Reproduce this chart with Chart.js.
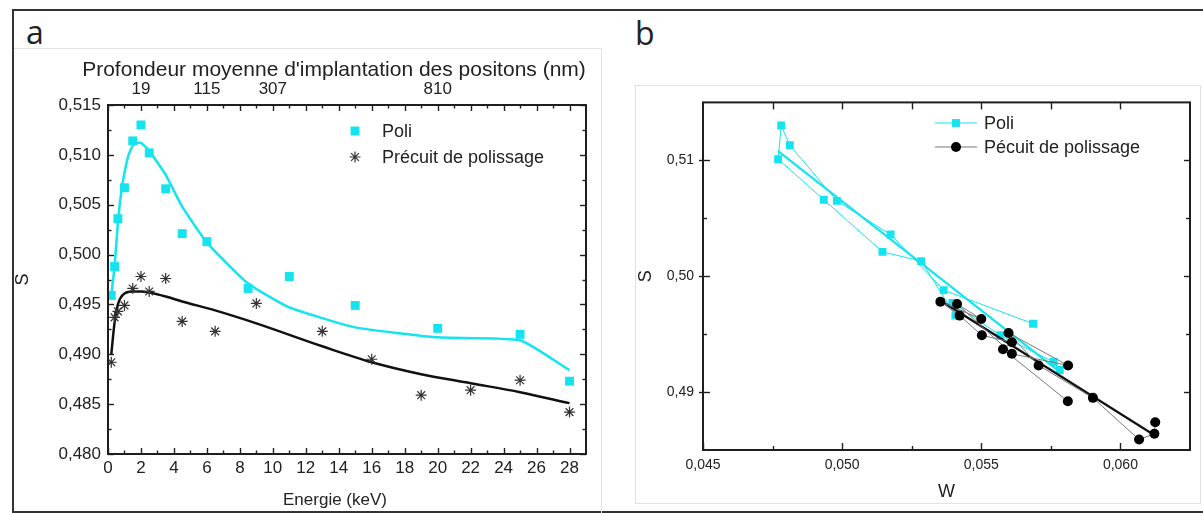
<!DOCTYPE html>
<html>
<head>
<meta charset="utf-8">
<script src="https://cdn.jsdelivr.net/npm/chart.js@4.4.0/dist/chart.umd.min.js"></script>
<style>
  body { margin:0; background:#fff; width:1203px; height:513px; position:relative; overflow:hidden; }
  #frame { position:absolute; left:12px; top:9px; width:1200px; height:500px; border:2px solid #333; border-right:none; }
  #boxA { position:absolute; left:14px; top:48px; width:587px; height:470px; border-top:1px solid #e2e2e2; border-right:1px solid #e2e2e2; }
  #boxB { position:absolute; left:635px; top:85px; width:564px; height:417px; border:1px solid #e2e2e2; }
  .lab { position:absolute; font-family:"Open Sans", sans-serif; font-size:32px; line-height:32px; color:#222; }
  canvas { position:absolute; }
  #chartA { left:0; top:48px; }
  #chartB { left:635px; top:85px; }
</style>
</head>
<body>
<div id="frame"></div>
<div id="boxA"></div>
<div id="boxB"></div>
<div class="lab" style="left:26px; top:16px;">a</div>
<div class="lab" style="left:635px; top:17px;">b</div>
<canvas id="chartA" width="603" height="463"></canvas>
<canvas id="chartB" width="565" height="420"></canvas>
<script>
// panel a : S(E)
const energyPoli = [0.2, 0.4, 0.6, 1, 1.5, 2, 2.5, 3.5, 4.5, 6, 8.5, 11, 15, 20, 25, 28];
const sPoli = [0.4959, 0.4988, 0.5036, 0.5067, 0.5114, 0.5130, 0.5102, 0.5066, 0.5021, 0.5013, 0.4966, 0.4978, 0.4949, 0.4926, 0.4920, 0.4873];
// fitted curve
const energyPoliFit = [0.2, 0.4, 0.6, 0.8, 1, 1.25, 1.5, 1.75, 2, 2.5, 3.5, 4.5, 6, 8.5, 11, 15, 20, 25, 28];
const sPoliFit = [0.4960, 0.4988, 0.5032, 0.5062, 0.5082, 0.5100, 0.5109, 0.5112, 0.5112, 0.5104, 0.5080, 0.5048, 0.5012, 0.4971, 0.4947, 0.4927, 0.4917, 0.4914, 0.4884];

const energyPrecuit = [0.2, 0.4, 0.6, 1, 1.5, 2, 2.5, 3.5, 4.5, 6.5, 9, 13, 16, 19, 22, 25, 28];
const sPrecuit = [0.4892, 0.4937, 0.4943, 0.4949, 0.4966, 0.4978, 0.4963, 0.4976, 0.4933, 0.4923, 0.4951, 0.4923, 0.4895, 0.4859, 0.4864, 0.4874, 0.4842];
const sPrecuitFit = [0.4900, 0.4932, 0.4950, 0.4961, 0.4963, 0.4963, 0.4962, 0.4958, 0.4953, 0.4944, 0.4931, 0.4908, 0.4892, 0.4880, 0.4871, 0.4862, 0.4851];

const energyTicks = [0, 2, 4, 6, 8, 10, 12, 14, 16, 18, 20, 22, 24, 26, 28];
const depthTickEnergy = [2, 6, 10, 20];
const depthTickLabels = ['19', '115', '307', '810'];
const sTicksA = [0.480, 0.485, 0.490, 0.495, 0.500, 0.505, 0.510, 0.515];

// panel b : S(W)
const wPoli = [0.05686, 0.05365, 0.05174, 0.04981, 0.04812, 0.04781, 0.04770, 0.04934, 0.05145, 0.05284, 0.05407, 0.05396, 0.05568, 0.05760, 0.05782];
const sPoliB = [0.4959, 0.4988, 0.5036, 0.5065, 0.5113, 0.5130, 0.5101, 0.5066, 0.5021, 0.5013, 0.4966, 0.4977, 0.4949, 0.4926, 0.4919];
const wPoliFit = [0.0477, 0.0579];
const sPoliFitB = [0.5108, 0.4916];

const wPrecuit = [0.05811, 0.05578, 0.05610, 0.05502, 0.05422, 0.05353, 0.05500, 0.05413, 0.05610, 0.05812, 0.05598, 0.05706, 0.05901, 0.06067, 0.06122, 0.06125];
const sPrecuitB = [0.4892, 0.4937, 0.4943, 0.4949, 0.4966, 0.4978, 0.4963, 0.4976, 0.4933, 0.4923, 0.4951, 0.4923, 0.4895, 0.4859, 0.4864, 0.4874];
const wPrecuitFit = [0.05353, 0.06114];
const sPrecuitFitB = [0.4979, 0.4864];

const wTicks = [0.045, 0.050, 0.055, 0.060];
const wTicksTop = [0.0475, 0.050, 0.0525, 0.055, 0.0575, 0.060];
const sTicksB = [0.49, 0.50, 0.51];

const FONT = '"Liberation Sans", Arial, sans-serif';
const CYAN = '#14e4ef';
const INK = '#1e1e1e';

function pts(xs, ys) {
    return xs.map((x, i) => ({ x: x, y: ys[i] }));
}
function mids(vals) {
    return vals.slice(1).map((v, i) => (v + vals[i]) / 2);
}
function comma(d) {
    return v => Number(v).toFixed(d).replace('.', ',');
}

// frame, inward tick marks, axis titles and legend, drawn through the chart scales
const framePlugin = {
    id: 'frame',
    afterDatasetsDraw(chart, args, opts) {
        const { ctx, chartArea: a, scales } = chart;
        ctx.save();
        ctx.strokeStyle = INK;
        ctx.lineWidth = 1.4;
        opts.marks.forEach(m => {
            const scale = scales[m.axis];
            m.values.forEach(v => {
                const p = Math.round(scale.getPixelForValue(v)) + 0.5;
                ctx.beginPath();
                if (m.side === 'bottom') { ctx.moveTo(p, a.bottom + (m.out || 0)); ctx.lineTo(p, a.bottom - m.len); }
                if (m.side === 'top') { ctx.moveTo(p, a.top - (m.out || 0)); ctx.lineTo(p, a.top + m.len); }
                if (m.side === 'left') { ctx.moveTo(a.left - (m.out || 0), p); ctx.lineTo(a.left + m.len, p); }
                if (m.side === 'right') { ctx.moveTo(a.right + (m.out || 0), p); ctx.lineTo(a.right - m.len, p); }
                ctx.stroke();
            });
        });
        ctx.lineWidth = 2;
        ctx.strokeRect(a.left, a.top, a.right - a.left, a.bottom - a.top);

        ctx.fillStyle = '#222';
        ctx.textBaseline = 'middle';
        ctx.textAlign = 'center';
        (opts.titles || []).forEach(t => {
            ctx.font = t.font;
            ctx.fillText(t.text, t.x, t.y);
        });

        // legend
        ctx.textAlign = 'left';
        ctx.font = opts.legendFont;
        opts.legend.forEach(it => {
            const ds = chart.data.datasets[it.dataset];
            if (it.line) {
                ctx.strokeStyle = ds.borderColor;
                ctx.lineWidth = 1.2;
                ctx.beginPath();
                ctx.moveTo(it.x - 21, it.y);
                ctx.lineTo(it.x + 21, it.y);
                ctx.stroke();
            }
            ctx.fillStyle = ds.pointBackgroundColor;
            ctx.strokeStyle = ds.pointBorderColor;
            ctx.lineWidth = ds.pointBorderWidth;
            Chart.helpers.drawPoint(ctx, { pointStyle: ds.pointStyle, radius: it.r, rotation: 0, borderWidth: ds.pointBorderWidth }, it.x, it.y);
            ctx.fillStyle = '#222';
            ctx.fillText(ds.label, it.tx, it.y + 1);
        });
        ctx.restore();
    }
};

const tickFont = size => ({ size: size, family: FONT });

new Chart(document.getElementById('chartA'), {
    type: 'scatter',
    plugins: [framePlugin],
    data: {
        datasets: [
            {
                label: 'Poli',
                data: pts(energyPoli, sPoli),
                pointStyle: 'rect', pointRadius: 6.3,
                pointBackgroundColor: CYAN, pointBorderColor: CYAN, pointBorderWidth: 0,
                borderColor: CYAN
            },
            {
                label: 'Précuit de polissage',
                data: pts(energyPrecuit, sPrecuit),
                pointStyle: 'star', pointRadius: 5.5,
                pointBackgroundColor: '#333', pointBorderColor: '#333', pointBorderWidth: 1.2,
                borderColor: '#333'
            },
            {
                label: 'fit poli',
                data: pts(energyPoliFit, sPoliFit),
                showLine: true, pointRadius: 0, borderColor: CYAN, borderWidth: 2.5,
                tension: 0.15
            },
            {
                label: 'fit précuit',
                data: pts(energyPrecuit, sPrecuitFit),
                showLine: true, pointRadius: 0, borderColor: '#111', borderWidth: 2.5,
                cubicInterpolationMode: 'monotone'
            }
        ]
    },
    options: {
        responsive: false,
        animation: false,
        layout: { padding: { left: 0, right: 17, top: 0, bottom: 0 } },
        plugins: {
            legend: { display: false },
            tooltip: { enabled: false },
            frame: {
                legendFont: '18px ' + FONT,
                legend: [
                    { dataset: 0, x: 355, y: 83, r: 6.3, tx: 382 },
                    { dataset: 1, x: 355, y: 109, r: 5.5, tx: 382 }
                ],
                titles: [
                    { text: "Profondeur moyenne d'implantation des positons (nm)", x: 334, y: 22, font: '21px ' + FONT },
                    { text: 'Energie (keV)', x: 335, y: 452, font: '17px ' + FONT }
                ],
                marks: [
                    { axis: 'x', side: 'bottom', values: energyTicks, len: 6 },
                    { axis: 'x', side: 'bottom', values: mids(energyTicks), len: 3.5 },
                    { axis: 'x', side: 'top', values: energyTicks, len: 6 },
                    { axis: 'x', side: 'top', values: mids(energyTicks), len: 3.5 },
                    { axis: 'y', side: 'left', values: sTicksA, len: 6 },
                    { axis: 'y', side: 'left', values: mids(sTicksA), len: 3.5 },
                    { axis: 'y', side: 'right', values: sTicksA, len: 6 },
                    { axis: 'y', side: 'right', values: mids(sTicksA), len: 3.5 }
                ]
            }
        },
        scales: {
            x: {
                type: 'linear', position: 'bottom', min: 0, max: 29,
                grid: { display: false, drawTicks: false }, border: { display: false },
                afterBuildTicks: s => { s.ticks = energyTicks.map(v => ({ value: v })); },
                afterFit: s => { s.height = 57; },
                ticks: { padding: 4, color: '#222', font: tickFont(17), maxRotation: 0, autoSkip: false, callback: v => String(v) }
            },
            x2: {
                type: 'linear', position: 'top', min: 0, max: 29,
                grid: { display: false, drawTicks: false }, border: { display: false },
                afterBuildTicks: s => { s.ticks = depthTickEnergy.map(v => ({ value: v })); },
                afterFit: s => { s.height = 57; },
                ticks: { padding: 5, color: '#222', font: tickFont(17), maxRotation: 0, autoSkip: false,
                    callback: v => depthTickLabels[depthTickEnergy.indexOf(v)] }
            },
            y: {
                type: 'linear', position: 'left', min: 0.480, max: 0.515,
                grid: { display: false, drawTicks: false }, border: { display: false },
                afterBuildTicks: s => { s.ticks = sTicksA.map(v => ({ value: v })); },
                afterFit: s => { s.width = 108; },
                ticks: { padding: 7, color: '#222', font: tickFont(17), callback: comma(3) },
                title: { display: true, text: 'S', color: '#222', font: tickFont(18), padding: { top: 12, bottom: 0 } }
            }
        }
    }
});

new Chart(document.getElementById('chartB'), {
    type: 'scatter',
    plugins: [framePlugin],
    data: {
        datasets: [
            {
                label: 'Pécuit de polissage',
                data: pts(wPrecuit, sPrecuitB),
                showLine: true, borderColor: '#7a7a7a', borderWidth: 1,
                pointStyle: 'circle', pointRadius: 5,
                pointBackgroundColor: '#000', pointBorderColor: '#000', pointBorderWidth: 0
            },
            {
                label: 'fit précuit',
                data: pts(wPrecuitFit, sPrecuitFitB),
                showLine: true, pointRadius: 0, borderColor: '#111', borderWidth: 2.2
            },
            {
                label: 'Poli',
                data: pts(wPoli, sPoliB),
                showLine: true, borderColor: CYAN, borderWidth: 1,
                pointStyle: 'rect', pointRadius: 5.6,
                pointBackgroundColor: CYAN, pointBorderColor: CYAN, pointBorderWidth: 0
            },
            {
                label: 'fit poli',
                data: pts(wPoliFit, sPoliFitB),
                showLine: true, pointRadius: 0, borderColor: CYAN, borderWidth: 2.2
            }
        ]
    },
    options: {
        responsive: false,
        animation: false,
        layout: { padding: { left: 0, right: 10, top: 10, bottom: 0 } },
        plugins: {
            legend: { display: false },
            tooltip: { enabled: false },
            frame: {
                legendFont: '18px ' + FONT,
                legend: [
                    { dataset: 2, x: 321, y: 38, r: 5.6, tx: 349, line: true },
                    { dataset: 0, x: 321, y: 62, r: 5, tx: 349, line: true }
                ],
                marks: [
                    { axis: 'x', side: 'bottom', values: wTicks, len: 7 },
                    { axis: 'x', side: 'bottom', values: mids(wTicks), len: 4 },
                    { axis: 'x', side: 'top', values: wTicksTop, len: 7 },
                    { axis: 'y', side: 'left', values: sTicksB, len: 7, out: 4 },
                    { axis: 'y', side: 'left', values: mids(sTicksB), len: 4 },
                    { axis: 'y', side: 'right', values: sTicksB, len: 6 },
                    { axis: 'y', side: 'right', values: mids(sTicksB), len: 4 }
                ]
            }
        },
        scales: {
            x: {
                type: 'linear', position: 'bottom', min: 0.045, max: 0.0625,
                grid: { display: false, drawTicks: false }, border: { display: false },
                afterBuildTicks: s => { s.ticks = wTicks.map(v => ({ value: v })); },
                afterFit: s => { s.height = 55; },
                ticks: { padding: 7, color: '#222', font: tickFont(14), maxRotation: 0, autoSkip: false, callback: comma(3) },
                title: { display: true, text: 'W', color: '#222', font: tickFont(18), padding: { top: 0, bottom: 2 } }
            },
            y: {
                type: 'linear', position: 'left', min: 0.485, max: 0.515,
                grid: { display: false, drawTicks: false }, border: { display: false },
                afterBuildTicks: s => { s.ticks = sTicksB.map(v => ({ value: v })); },
                afterFit: s => { s.width = 68; },
                ticks: { padding: 9, color: '#222', font: tickFont(14), callback: comma(2) },
                title: { display: true, text: 'S', color: '#222', font: tickFont(18), padding: { top: 0, bottom: 0 } }
            }
        }
    }
});
</script>
</body>
</html>
